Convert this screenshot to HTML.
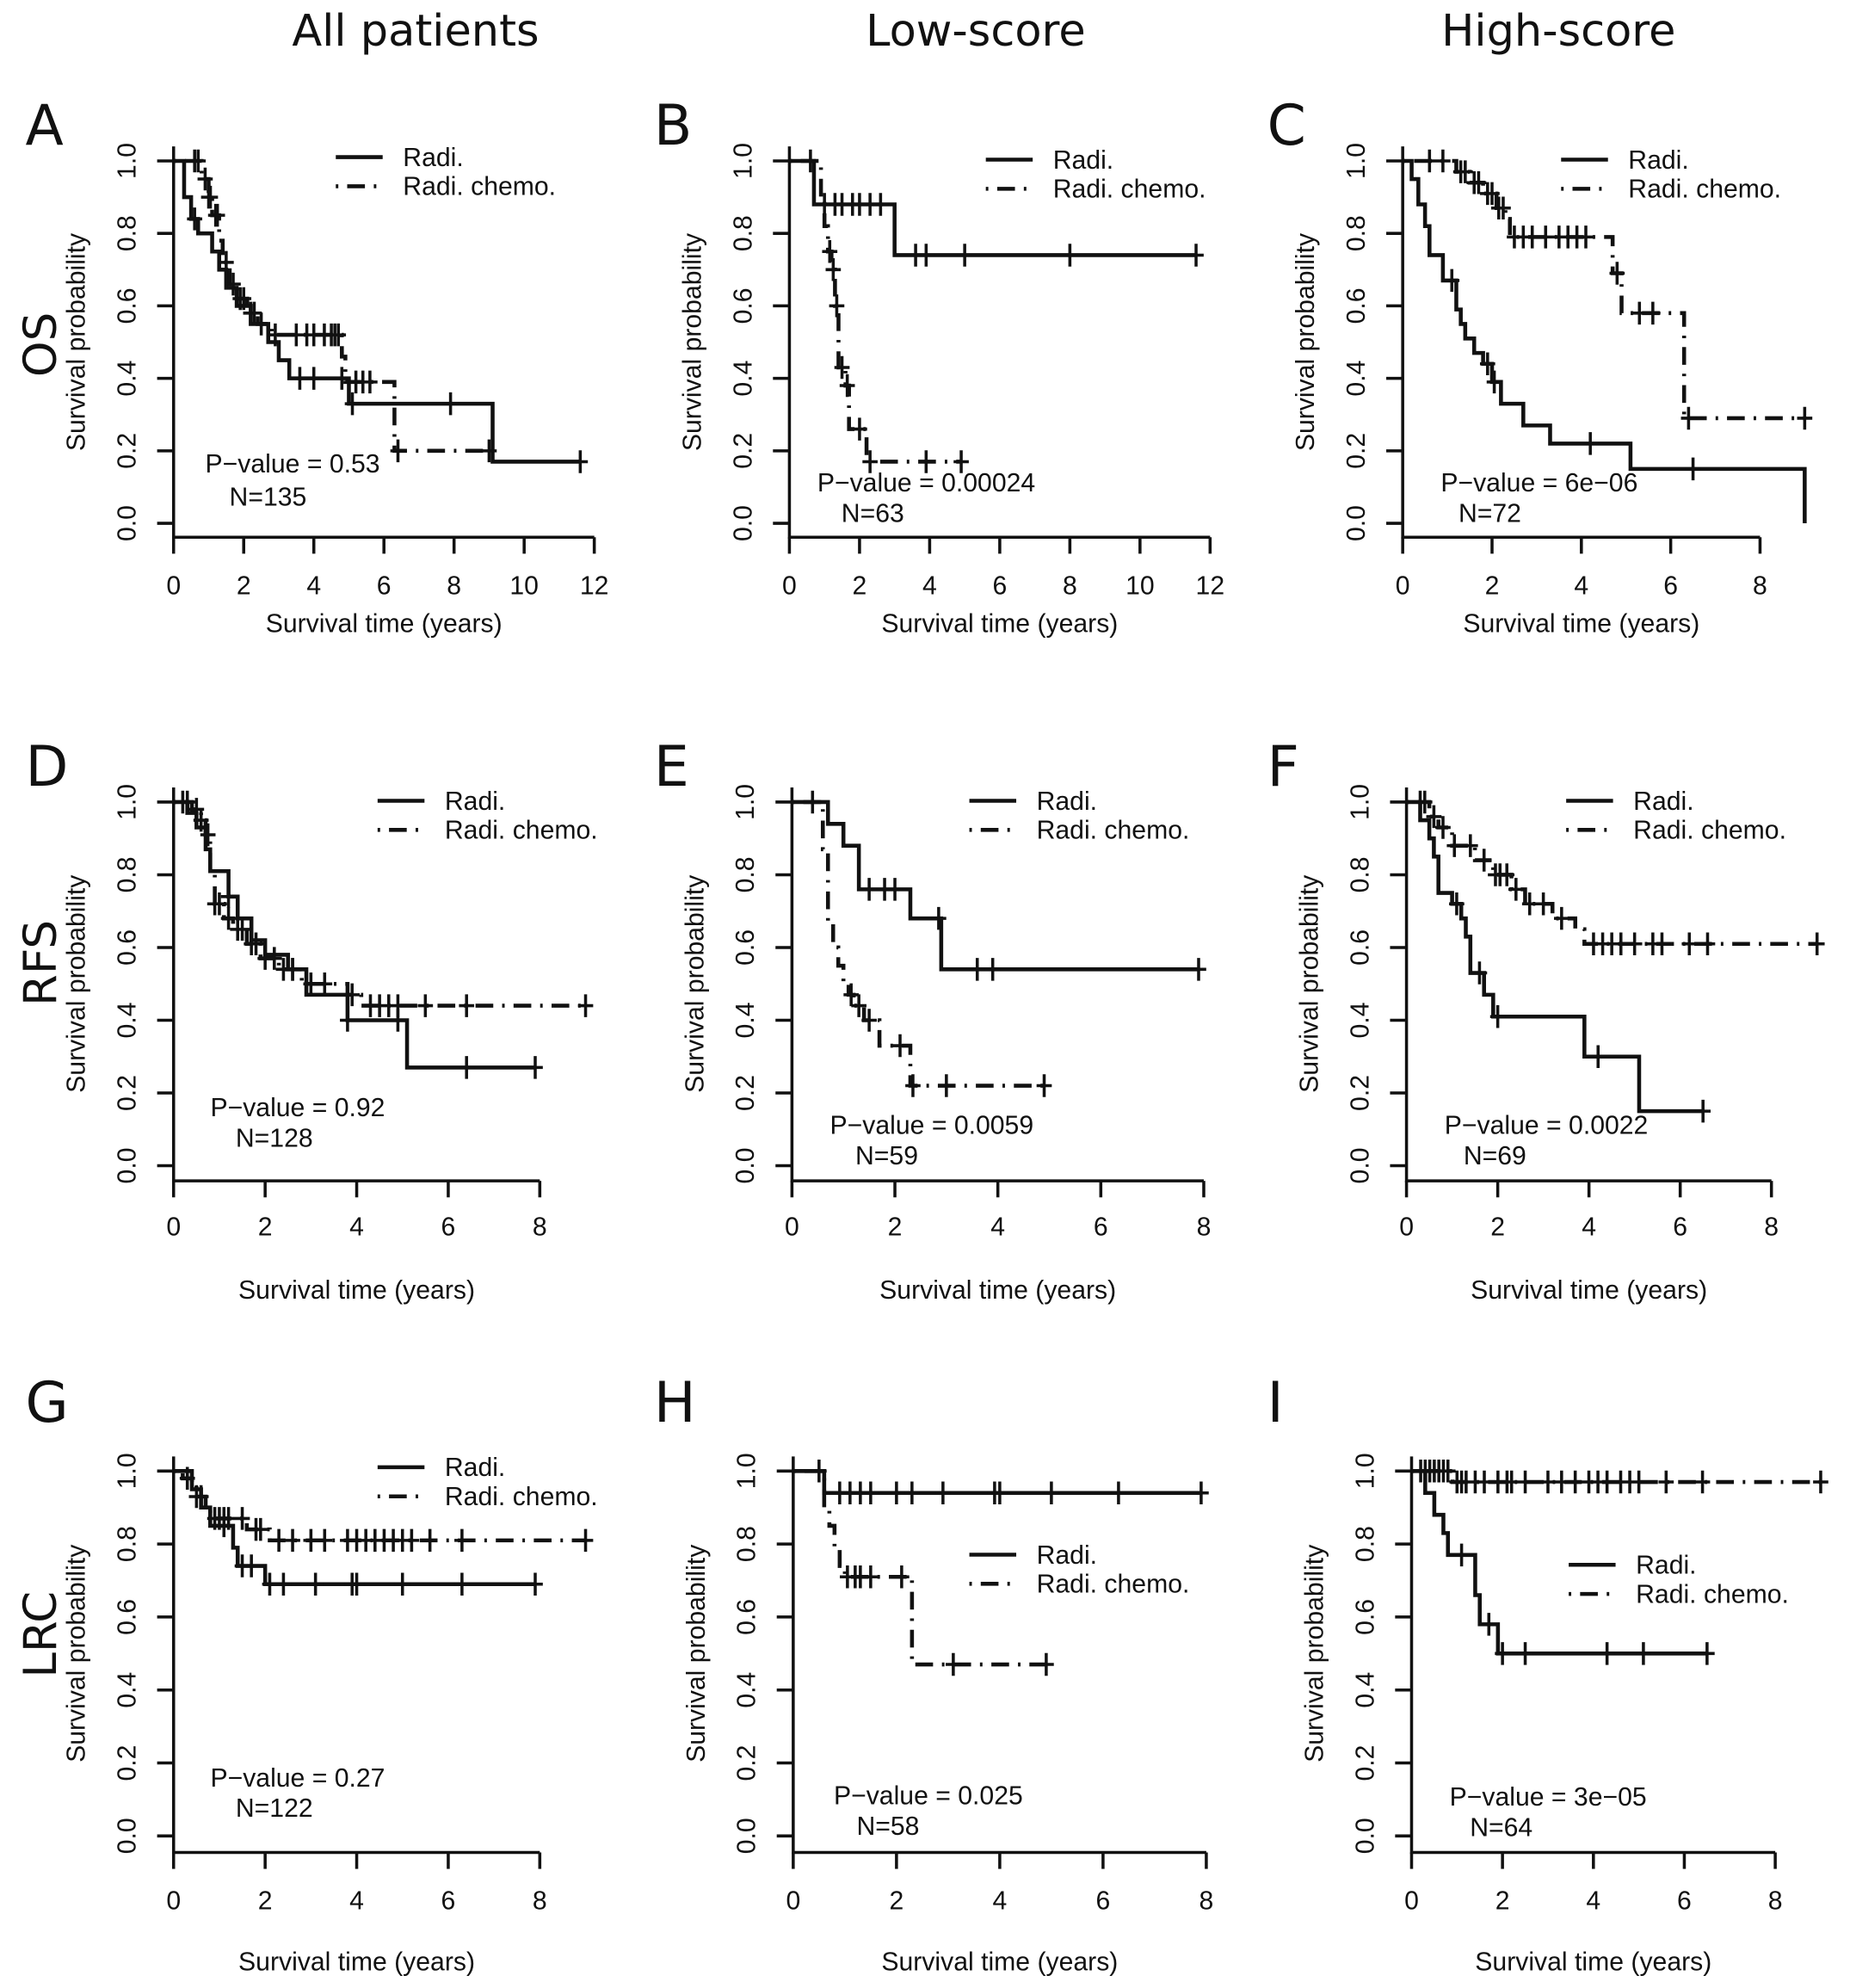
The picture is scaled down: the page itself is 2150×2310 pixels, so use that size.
<!DOCTYPE html>
<html><head><meta charset="utf-8"><style>
html,body{margin:0;padding:0;background:#fff;}
svg{display:block;font-family:"Liberation Sans",Arial,sans-serif;}
</style></head><body>
<svg id="fig" width="2150" height="2310" viewBox="0 0 1460 1569" preserveAspectRatio="none" xmlns="http://www.w3.org/2000/svg">
<rect width="1460" height="1569" fill="#fff"/>
<g font-size="34.6" text-anchor="middle" fill="#111" font-family="'DejaVu Sans','Liberation Sans',sans-serif">
<text x="328" y="36">All patients</text>
<text x="770" y="36">Low-score</text>
<text x="1230" y="36">High-score</text>
<text transform="translate(44,272) rotate(-90)" font-size="36">OS</text>
<text transform="translate(44,760) rotate(-90)" font-size="36">RFS</text>
<text transform="translate(44,1290) rotate(-90)" font-size="36">LRC</text>
</g>
<g id="panels"></g>
</svg>
<script>
// ---- data (time in years, survival probability after each event) ----
const A_radi_t=[0.3,0.5,0.7,1.1,1.3,1.5,1.8,2.2,2.7,3.0,3.3,5.0,9.1];
const A_radi_s=[0.9,0.84,0.8,0.75,0.7,0.65,0.6,0.55,0.5,0.45,0.4,0.33,0.17];
const A_radi_c=[0.6,3.6,4.0,4.8,5.1,7.9,11.6];
const A_chem_t=[0.8,1.0,1.1,1.3,1.4,1.6,1.8,2.1,2.4,2.8,4.8,4.9,6.3];
const A_chem_s=[0.95,0.9,0.85,0.78,0.72,0.66,0.62,0.58,0.55,0.52,0.46,0.39,0.2];
const A_chem_c=[0.6,0.7,0.9,1.0,1.05,1.2,1.25,1.5,1.7,1.9,2.0,2.2,2.3,2.5,2.9,3.5,3.8,4.0,4.3,4.5,4.6,4.7,5.2,5.4,5.6,6.4,9.0];

const B_radi_t=[0.7,3.0];
const B_radi_s=[0.88,0.74];
const B_radi_c=[1.0,1.3,1.5,1.8,2.0,2.3,2.6,3.6,3.9,5.0,8.0,11.6];
const B_chem_t=[0.9,1.0,1.1,1.2,1.3,1.4,1.6,1.7,2.2];
const B_chem_s=[0.9,0.82,0.75,0.7,0.6,0.43,0.38,0.26,0.17];
const B_chem_c=[0.6,1.15,1.25,1.35,1.5,1.65,2.0,2.3,3.9,4.9];

const C_radi_t=[0.2,0.35,0.5,0.6,0.9,1.2,1.3,1.4,1.6,1.8,2.0,2.2,2.7,3.3,5.1,9.0];
const C_radi_s=[0.95,0.88,0.82,0.74,0.67,0.59,0.55,0.51,0.47,0.44,0.39,0.33,0.27,0.22,0.15,0.0];
const C_radi_c=[1.1,1.9,2.05,4.2,6.5];
const C_chem_t=[1.2,1.5,1.8,2.1,2.3,2.4,4.7,4.9,6.3];
const C_chem_s=[0.97,0.94,0.91,0.87,0.84,0.79,0.69,0.58,0.29];
const C_chem_c=[0.6,0.9,1.3,1.4,1.6,1.7,1.9,2.0,2.15,2.25,2.5,2.7,2.9,3.2,3.5,3.7,3.9,4.1,4.8,5.3,5.6,6.4,9.0];

const D_radi_t=[0.3,0.5,0.7,0.8,1.2,1.4,1.7,2.0,2.5,2.9,3.8,5.1];
const D_radi_s=[0.97,0.93,0.87,0.81,0.74,0.68,0.62,0.58,0.54,0.47,0.4,0.27];
const D_radi_c=[1.2,2.6,3.8,4.9,6.4,7.9];
const D_chem_t=[0.4,0.6,0.7,0.8,0.9,1.1,1.3,1.6,1.9,2.3,2.8,3.8,4.1];
const D_chem_s=[0.98,0.95,0.91,0.8,0.72,0.68,0.65,0.61,0.57,0.54,0.5,0.47,0.44];
const D_chem_c=[0.2,0.3,0.5,0.6,0.75,0.9,1.0,1.2,1.4,1.5,1.7,1.8,2.0,2.2,2.4,2.6,3.0,3.3,3.9,4.3,4.5,4.7,4.9,5.5,6.4,9.0];

const E_radi_t=[0.7,1.0,1.3,2.3,2.9];
const E_radi_s=[0.94,0.88,0.76,0.68,0.54];
const E_radi_c=[1.5,1.8,2.0,2.85,3.6,3.9,7.9];
const E_chem_t=[0.6,0.7,0.8,0.9,1.0,1.1,1.2,1.4,1.7,2.3];
const E_chem_s=[0.87,0.67,0.6,0.55,0.5,0.47,0.44,0.4,0.33,0.22];
const E_chem_c=[0.4,1.15,1.3,1.5,2.1,2.35,3.0,4.9];

const F_radi_t=[0.3,0.5,0.6,0.7,1.0,1.2,1.3,1.4,1.7,1.9,3.9,5.1];
const F_radi_s=[0.95,0.9,0.85,0.75,0.72,0.68,0.63,0.53,0.47,0.41,0.3,0.15];
const F_radi_c=[1.1,1.6,2.0,4.2,6.5];
const F_chem_t=[0.5,0.7,1.0,1.5,1.9,2.3,2.6,3.2,3.7,3.9];
const F_chem_s=[0.96,0.93,0.88,0.84,0.8,0.76,0.72,0.68,0.65,0.61];
const F_chem_c=[0.3,0.4,0.6,0.8,1.05,1.4,1.7,1.95,2.05,2.2,2.4,2.7,3.0,3.4,4.1,4.3,4.5,4.7,5.0,5.4,5.6,6.2,6.6,9.0];

const G_radi_t=[0.4,0.6,0.8,1.3,1.4,2.0];
const G_radi_s=[0.95,0.9,0.85,0.79,0.74,0.69];
const G_radi_c=[1.1,1.5,1.7,2.1,2.4,3.1,3.9,4.0,5.0,6.3,7.9];
const G_chem_t=[0.2,0.4,0.5,0.7,0.8,1.6,2.1];
const G_chem_s=[0.98,0.96,0.93,0.9,0.87,0.84,0.81];
const G_chem_c=[0.3,0.5,0.6,0.9,1.0,1.1,1.2,1.5,1.8,1.9,2.3,2.6,3.0,3.3,3.8,4.0,4.2,4.4,4.6,4.8,5.0,5.2,5.6,6.3,9.0];

const H_radi_t=[0.6];
const H_radi_s=[0.94];
const H_radi_c=[0.9,1.1,1.3,1.5,2.0,2.3,2.9,3.9,4.0,5.0,6.3,7.9];
const H_chem_t=[0.6,0.7,0.8,0.9,1.0,2.3];
const H_chem_s=[0.9,0.85,0.79,0.74,0.71,0.47];
const H_chem_c=[0.5,1.05,1.2,1.3,1.5,2.1,3.1,4.9];

const I_radi_t=[0.3,0.5,0.7,0.8,1.4,1.5,1.9];
const I_radi_s=[0.94,0.88,0.83,0.77,0.66,0.58,0.5];
const I_radi_c=[1.1,1.7,2.0,2.5,4.3,5.1,6.5];
const I_chem_t=[0.9];
const I_chem_s=[0.97];
const I_chem_c=[0.2,0.3,0.4,0.5,0.6,0.7,0.8,1.0,1.1,1.2,1.4,1.6,1.9,2.1,2.2,2.5,3.0,3.3,3.6,3.9,4.1,4.3,4.6,4.8,5.0,5.6,6.4,9.0];

const xTicks12=[0,2,4,6,8,10,12];
const xTicks8=[0,2,4,6,8];
const yTicks=[0,0.2,0.4,0.6,0.8,1.0];
const pTexts=["P\u2212value = 0.53","P\u2212value = 0.00024","P\u2212value = 6e\u221206","P\u2212value = 0.92","P\u2212value = 0.0059","P\u2212value = 0.0022","P\u2212value = 0.27","P\u2212value = 0.025","P\u2212value = 3e\u221205"];
const nTexts=["N=135","N=63","N=72","N=128","N=59","N=69","N=122","N=58","N=64"];
const letters=["A","B","C","D","E","F","G","H","I"];

// ---- layout ----
const series=[
 [A_radi_t,A_radi_s,A_radi_c,A_chem_t,A_chem_s,A_chem_c],
 [B_radi_t,B_radi_s,B_radi_c,B_chem_t,B_chem_s,B_chem_c],
 [C_radi_t,C_radi_s,C_radi_c,C_chem_t,C_chem_s,C_chem_c],
 [D_radi_t,D_radi_s,D_radi_c,D_chem_t,D_chem_s,D_chem_c],
 [E_radi_t,E_radi_s,E_radi_c,E_chem_t,E_chem_s,E_chem_c],
 [F_radi_t,F_radi_s,F_radi_c,F_chem_t,F_chem_s,F_chem_c],
 [G_radi_t,G_radi_s,G_radi_c,G_chem_t,G_chem_s,G_chem_c],
 [H_radi_t,H_radi_s,H_radi_c,H_chem_t,H_chem_s,H_chem_c],
 [I_radi_t,I_radi_s,I_radi_c,I_chem_t,I_chem_s,I_chem_c]];
const geo=[
 {x0:137,x1:469,tk:xTicks12,y1:127,y0:413,ax:424,tl:462,xl:492,lg:[265,124],p:[162,366],n:[181,392],L:[20,114]},
 {x0:623,x1:955,tk:xTicks12,y1:127,y0:413,ax:424,tl:462,xl:492,lg:[778,126],p:[645,381],n:[664,405],L:[516,114]},
 {x0:1107,x1:1389,tk:xTicks8,y1:127,y0:413,ax:424,tl:462,xl:492,lg:[1232,126],p:[1137,381],n:[1151,405],L:[1000,114]},
 {x0:137,x1:426,tk:xTicks8,y1:633,y0:920,ax:932,tl:968,xl:1018,lg:[298,632],p:[166,874],n:[186,898],L:[20,620]},
 {x0:625,x1:950,tk:xTicks8,y1:633,y0:920,ax:932,tl:968,xl:1018,lg:[765,632],p:[655,888],n:[675,912],L:[516,620]},
 {x0:1110,x1:1398,tk:xTicks8,y1:633,y0:920,ax:932,tl:968,xl:1018,lg:[1236,632],p:[1140,888],n:[1155,912],L:[1000,620]},
 {x0:137,x1:426,tk:xTicks8,y1:1161,y0:1449,ax:1462,tl:1500,xl:1548,lg:[298,1158],p:[166,1403],n:[186,1427],L:[20,1122]},
 {x0:626,x1:952,tk:xTicks8,y1:1161,y0:1449,ax:1462,tl:1500,xl:1548,lg:[765,1227],p:[658,1417],n:[676,1441],L:[516,1122]},
 {x0:1114,x1:1401,tk:xTicks8,y1:1161,y0:1449,ax:1462,tl:1500,xl:1548,lg:[1238,1235],p:[1144,1418],n:[1160,1442],L:[1000,1122]}];

const NS="http://www.w3.org/2000/svg";
const root=document.getElementById('panels');
function mk(tag,attrs,parent,txt){const e=document.createElementNS(NS,tag);for(const k in attrs)e.setAttribute(k,attrs[k]);if(txt!==undefined)e.textContent=txt;parent.appendChild(e);return e;}
function stepAt(t,ts,ss){let s=1;for(let i=0;i<ts.length;i++){if(ts[i]<=t)s=ss[i];}return s;}
const DASH="2 7 14 7";
const FS=20.5;

for(let p=0;p<9;p++){
 const g=geo[p];const d=series[p];
 const tmax=g.tk[g.tk.length-1];
 const X=t=>g.x0+(g.x1-g.x0)*t/tmax;
 const Y=s=>g.y0-(g.y0-g.y1)*s;
 const pg=mk('g',{},root);
 
 
 const lt=mk('text',{x:g.L[0],y:g.L[1],'font-size':44,fill:'#111','font-family':"'DejaVu Sans','Liberation Sans',sans-serif"},pg,letters[p]);
 
 
 const ax=mk('path',{d:`M${g.x0},${Y(1.04)}V${g.ax}H${g.x1}`,fill:'none',stroke:'#111','stroke-width':2.4},pg);
 
 
 for(const t of g.tk){
  mk('line',{x1:X(t),x2:X(t),y1:g.ax,y2:g.ax+13,stroke:'#111','stroke-width':2.4},pg);
  const tl=mk('text',{x:X(t),y:g.tl+7,'font-size':FS,'text-anchor':'middle',fill:'#111'},pg,String(t));
  
  
 }
 for(const s of yTicks){
  mk('line',{x1:g.x0,x2:g.x0-13,y1:Y(s),y2:Y(s),stroke:'#111','stroke-width':2.4},pg);
  const yl=mk('text',{transform:`translate(${g.x0-30},${Y(s)}) rotate(-90)`,'font-size':FS,'text-anchor':'middle',fill:'#111'},pg,s.toFixed(1));
  
  
 }
 const xt=mk('text',{x:(g.x0+g.x1)/2,y:g.xl+7,'font-size':FS,'text-anchor':'middle',fill:'#111'},pg,'Survival time (years)');
 
 
 const yt=mk('text',{transform:`translate(${g.x0-70},${(g.y0+g.y1)/2}) rotate(-90)`,'font-size':FS,'text-anchor':'middle',fill:'#111'},pg,'Survival probability');
 
 
 for(let k=0;k<2;k++){
  const ts=d[k*3],ss=d[k*3+1],cs=d[k*3+2];
  let path=`M${X(0)},${Y(1)}`;
  for(let i=0;i<ts.length;i++){path+=`H${X(ts[i])}V${Y(ss[i])}`;}
  const end=Math.max(ts[ts.length-1],cs.length?cs[cs.length-1]:0);
  path+=`H${X(end)}`;
  const cv=mk('path',{d:path,fill:'none',stroke:'#111','stroke-width':3.1},pg);
  if(k===1)cv.setAttribute('stroke-dasharray',DASH);
  
  
  let cm='';
  for(const c of cs){const cx=X(c),cy=Y(stepAt(c,ts,ss));cm+=`M${cx-6},${cy}H${cx+6}M${cx},${cy-9}V${cy+9}`;}
  const cp=mk('path',{d:cm,fill:'none',stroke:'#111','stroke-width':2.4},pg);
  
  
 }
 const lg=mk('g',{},pg);
 
 
 mk('line',{x1:g.lg[0],x2:g.lg[0]+37,y1:g.lg[1],y2:g.lg[1],stroke:'#111','stroke-width':3.1},lg);
 mk('line',{x1:g.lg[0],x2:g.lg[0]+37,y1:g.lg[1]+23,y2:g.lg[1]+23,stroke:'#111','stroke-width':3.1,'stroke-dasharray':DASH},lg);
 mk('text',{x:g.lg[0]+53,y:g.lg[1]+7,'font-size':FS,fill:'#111'},lg,'Radi.');
 mk('text',{x:g.lg[0]+53,y:g.lg[1]+30,'font-size':FS,fill:'#111'},lg,'Radi. chemo.');
 const pt=mk('text',{x:g.p[0],y:g.p[1]+7,'font-size':FS,fill:'#111'},pg,pTexts[p]);
 
 
 const nt=mk('text',{x:g.n[0],y:g.n[1]+7,'font-size':FS,fill:'#111'},pg,nTexts[p]);
 
 
}
</script>
</body></html>
